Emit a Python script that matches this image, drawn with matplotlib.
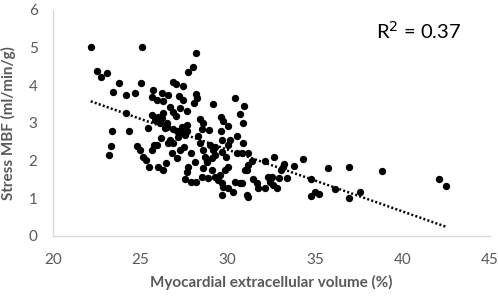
import matplotlib.pyplot as plt
import numpy as np

plt.rcParams['font.family'] = ['Lato', 'DejaVu Sans']

# extracellular volume (%) and stress MBF (ml/min/g)
ecv = [22.17, 22.51, 22.74, 23.09, 23.77, 23.43, 24.17, 24.69, 25.03, 25.09,
       24.17, 23.37, 24.34, 23.31, 23.2, 24.8, 24.97, 25.14, 25.31, 25.49,
       26.0, 25.77, 25.66, 25.43, 26.29, 25.71, 26.23, 25.66, 25.94, 26.29,
       26.57, 25.66, 26.0, 25.83, 26.11, 26.51, 26.4, 26.69, 25.94, 26.57,
       26.29, 28.17, 28.0, 27.71, 26.86, 27.03, 27.43, 27.2, 27.43, 28.17,
       28.23, 28.06, 29.14, 30.4, 30.91, 26.86, 27.03, 27.66, 28.4, 29.6,
       29.71, 30.0, 30.69, 30.86, 28.51, 28.91, 29.6, 30.51, 30.86, 26.86,
       27.09, 27.37, 27.66, 27.66, 27.54, 26.51, 26.23, 26.86, 26.69, 27.14,
       27.37, 28.4, 28.57, 28.97, 29.14, 29.26, 29.66, 30.0, 30.11, 29.66,
       30.51, 31.14, 27.26, 27.09, 26.46, 27.71, 28.11, 28.57, 27.66, 27.54,
       27.89, 28.17, 28.51, 28.86, 29.09, 29.26, 29.43, 29.66, 29.54, 29.83,
       30.0, 29.71, 29.66, 30.0, 30.29, 30.4, 30.69, 31.14, 30.97, 28.8,
       29.09, 28.69, 30.8, 31.37, 31.14, 31.09, 32.11, 32.63, 33.2, 33.14,
       33.03, 33.77, 34.29, 35.71, 31.43, 31.66, 31.71, 32.11, 32.29, 32.51,
       32.4, 32.57, 32.8, 32.91, 33.37, 30.8, 31.09, 34.74, 34.74, 34.97,
       35.2, 36.11, 36.91, 38.8, 42.06, 42.51, 36.91, 37.54,
       26.2, 27.5, 28.3, 28.8, 29.3, 27.9, 26.8, 28.6, 29.9, 27.3]
mbf = [5.01, 4.38, 4.22, 4.32, 4.06, 3.82, 3.74, 3.79, 4.06, 5.01,
       3.26, 2.79, 2.79, 2.39, 2.15, 2.39, 2.28, 2.10, 2.02, 1.83,
       1.83, 2.41, 2.28, 2.86, 1.75, 3.87, 3.79, 3.69, 3.61, 3.58,
       3.74, 3.21, 3.16, 3.08, 3.0, 3.0, 2.86, 3.42, 2.41, 2.47,
       3.26, 4.85, 4.48, 4.35, 4.08, 4.03, 3.98, 3.71, 3.61, 3.77,
       3.66, 3.53, 3.50, 3.66, 3.45, 3.29, 3.18, 3.32, 3.10, 3.16,
       3.05, 2.92, 3.24, 3.0, 2.84, 2.81, 2.79, 2.65, 2.47, 2.84,
       2.79, 2.89, 2.94, 2.79, 2.68, 2.89, 3.13, 2.47, 2.55, 2.63,
       2.73, 2.47, 2.28, 2.41, 2.28, 2.15, 2.23, 2.41, 2.55, 2.55,
       2.20, 2.20, 2.28, 2.07, 1.94, 1.83, 1.96, 1.80, 1.70, 1.51,
       1.43, 1.43, 1.56, 1.54, 1.75, 1.56, 1.49, 1.41, 1.62, 1.75,
       1.83, 1.30, 1.09, 1.27, 1.17, 1.43, 1.41, 1.03, 1.75, 1.96,
       2.07, 2.10, 2.20, 1.99, 1.88, 1.75, 1.99, 2.10, 1.91, 1.83,
       1.75, 1.86, 2.04, 1.80, 1.51, 1.41, 1.27, 1.27, 1.56, 1.56,
       1.43, 1.35, 1.27, 1.54, 1.54, 1.41, 1.09, 1.51, 1.06, 1.17,
       1.11, 1.25, 1.83, 1.72, 1.51, 1.33, 1.01, 1.17,
       2.6, 2.35, 2.65, 2.0, 2.35, 2.2, 2.2, 3.0, 2.1, 3.4]

x_ticks = [20, 25, 30, 35, 40, 45]
y_ticks = [0, 1, 2, 3, 4, 5, 6]
r2_label = "R$^2$ = 0.37"

fig = plt.figure(figsize=(4.98, 2.99), dpi=100)
ax = fig.add_axes([0.106, 0.211, 0.878, 0.756])

ax.scatter(ecv, mbf, s=28, color="black", zorder=3, linewidths=0)

# linear trend line
x = np.array(ecv)
y = np.array(mbf)
k, b = np.polyfit(x, y, 1)
xs = np.array([x.min(), x.max()])
ax.plot(xs, k * xs + b, color="black", lw=1.8, linestyle=(0, (0.8, 0.9)), zorder=2)

ax.set_xlim(20, 45)
ax.set_ylim(0, 6)
ax.set_xticks(x_ticks)
ax.set_yticks(y_ticks)
ax.tick_params(length=0, labelsize=11, labelcolor="#595959")
ax.tick_params(axis="x", pad=12)
ax.tick_params(axis="y", pad=11)
for s in ["top", "right"]:
    ax.spines[s].set_visible(False)
for s in ["left", "bottom"]:
    ax.spines[s].set_color("#d9d9d9")
    ax.spines[s].set_linewidth(1)

ax.set_xlabel("Myocardial extracellular volume (%)", fontsize=11,
              fontweight="bold", color="#595959", labelpad=6)
ax.set_ylabel("Stress MBF (ml/min/g)", fontsize=11,
              fontweight="bold", color="#595959", labelpad=9)

ax.text(0.74, 0.905, r2_label, transform=ax.transAxes, fontsize=14.5,
        color="black", ha="left", va="center")

fig.savefig("out.png", dpi=100)
